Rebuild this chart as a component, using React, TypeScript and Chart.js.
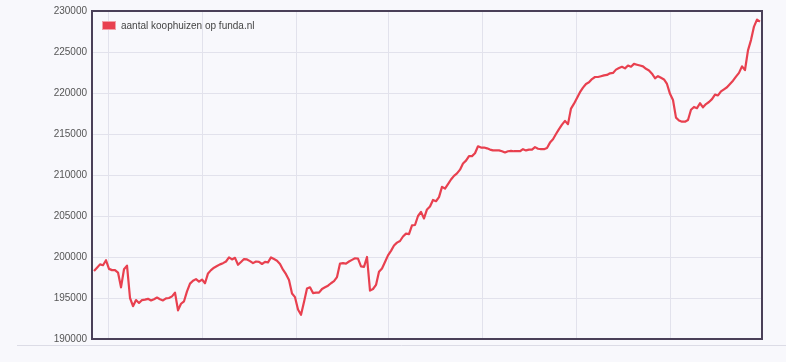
import { useEffect, useRef } from 'react';
import { Chart, registerables } from 'chart.js';

Chart.register(...registerables);

const seriesLabel = 'aantal koophuizen op funda.nl';
const yMin = 190000;
const yMax = 230000;
const yStep = 5000;
// day positions (index units) where the month gridlines fall
const monthStarts = [4.8, 36.1, 67.6, 98.1, 129.6, 160.9, 192.2];

// daily number of homes for sale on funda.nl
const listings = [
  198300, 198700, 199100, 199000, 199600, 198550, 198400, 198400, 198100, 196300,
  198500, 198950, 195000, 194000, 194750, 194400, 194750, 194800, 194900, 194700,
  194850, 195050, 194850, 194700, 194950, 195000, 195200, 195650, 193500, 194300,
  194600, 195800, 196750, 197100, 197300, 197000, 197250, 196800, 198000, 198400,
  198700, 198900, 199100, 199250, 199450, 199950, 199700, 199900, 199050, 199400,
  199750, 199700, 199500, 199250, 199450, 199400, 199150, 199400, 199350, 199950,
  199750, 199550, 199150, 198450, 197900, 197200, 195550, 195100, 193600, 192950,
  194500, 196150, 196300, 195600, 195650, 195650, 196100, 196300, 196500, 196800,
  197050, 197550, 199200, 199250, 199200, 199450, 199650, 199850, 199800, 198850,
  198800, 200000, 195900, 196100, 196600, 198200, 198600, 199400, 200200, 200750,
  201400, 201750, 201950, 202500, 202850, 202800, 203850, 203900, 205000, 205500,
  204700, 205800, 206150, 206950, 206800, 207300, 208550, 208350, 208900, 209450,
  209900, 210200, 210650, 211400, 211750, 212300, 212300, 212650, 213500, 213350,
  213350, 213250, 213100, 213000, 213000, 213000, 212900, 212750, 212900, 212950,
  212900, 212900, 212900, 213150, 213000, 213100, 213100, 213400, 213200, 213150,
  213150, 213300, 213950, 214350, 215000, 215600, 216150, 216600, 216200, 218100,
  218700, 219400, 220100, 220650, 221100, 221300, 221700, 221950, 221950, 222050,
  222150, 222200, 222400, 222450, 222850, 223050, 223200, 223000, 223350, 223200,
  223550, 223450, 223350, 223250, 222950, 222750, 222350, 221800, 222050, 221850,
  221650, 221100, 219900, 219150, 217000, 216650, 216500, 216500, 216700, 217950,
  218300, 218150, 218750, 218250, 218650, 218900, 219250, 219800, 219700, 220200,
  220450, 220700, 221100, 221500, 222000, 222450, 223250, 222800, 225200, 226450,
  228100, 228950, 228700,
];

const LINE = '#e8404f';
const FONT = '"Liberation Sans", Arial, sans-serif';

const pagePlugin = {
  id: 'page',
  beforeDraw(chart: any) {
    const { ctx, width, height } = chart;
    ctx.save();
    ctx.fillStyle = '#f8f8fc';
    ctx.fillRect(0, 0, width, height);
    ctx.strokeStyle = '#dcdce6';
    ctx.lineWidth = 1;
    ctx.beginPath();
    ctx.moveTo(17, 345.5);
    ctx.lineTo(width, 345.5);
    ctx.stroke();
    ctx.restore();
  },
};

const framePlugin = {
  id: 'frame',
  afterDatasetsDraw(chart: any) {
    const { ctx, chartArea: a } = chart;
    ctx.save();
    ctx.strokeStyle = '#4a4058';
    ctx.lineWidth = 2;
    ctx.strokeRect(a.left, a.top, a.right - a.left, a.bottom - a.top);
    ctx.restore();
  },
  afterDraw(chart: any) {
    const { ctx, chartArea: a } = chart;
    const label = chart.data.datasets[0].label;
    ctx.save();
    ctx.fillStyle = LINE;
    ctx.fillRect(a.left + 10, a.top + 10, 14, 9);
    ctx.strokeStyle = '#f2a0a8';
    ctx.lineWidth = 1;
    ctx.strokeRect(a.left + 10.5, a.top + 10.5, 13, 8);
    ctx.fillStyle = '#444';
    ctx.font = `10px ${FONT}`;
    ctx.textBaseline = 'middle';
    ctx.textAlign = 'left';
    ctx.fillText(label, a.left + 29, a.top + 15);
    ctx.restore();
  },
};

export default function App() {
  const ref = useRef<HTMLCanvasElement | null>(null);

  useEffect(() => {
    if (!ref.current) return;
    const chart = new Chart(ref.current, {
      type: 'line',
      data: {
        datasets: [
          {
            label: seriesLabel,
            data: listings.map((v, i) => ({ x: i, y: v })),
            borderColor: LINE,
            backgroundColor: LINE,
            borderWidth: 2.2,
            pointRadius: 0,
            tension: 0,
            borderJoinStyle: 'round',
            fill: false,
          },
        ],
      },
      options: {
        animation: false,
        responsive: false,
        layout: { padding: { left: 0, top: 7, right: 24, bottom: 23 } },
        plugins: { legend: { display: false }, tooltip: { enabled: false } },
        scales: {
          x: {
            type: 'linear',
            min: -0.67,
            max: 222.67,
            afterBuildTicks(scale: any) {
              scale.ticks = monthStarts.map((v) => ({ value: v }));
            },
            afterFit(scale: any) {
              scale.height = 0;
            },
            ticks: { display: false },
            border: { display: false },
            grid: { color: '#e2e2ec', lineWidth: 1, drawTicks: false },
          },
          y: {
            min: yMin,
            max: yMax,
            afterFit(scale: any) {
              scale.width = 92;
            },
            ticks: {
              stepSize: yStep,
              padding: 5,
              color: '#555',
              font: { family: FONT, size: 10 },
              callback: (v: any) => String(v),
            },
            border: { display: false },
            grid: { color: '#e2e2ec', lineWidth: 1, drawTicks: false },
          },
        },
      },
      plugins: [pagePlugin, framePlugin],
    } as any);
    return () => chart.destroy();
  }, []);

  return (
    <div style={{ position: 'absolute', left: 0, top: 0, width: 786, height: 362 }}>
      <canvas ref={ref} width={786} height={362} style={{ display: 'block' }} />
    </div>
  );
}
